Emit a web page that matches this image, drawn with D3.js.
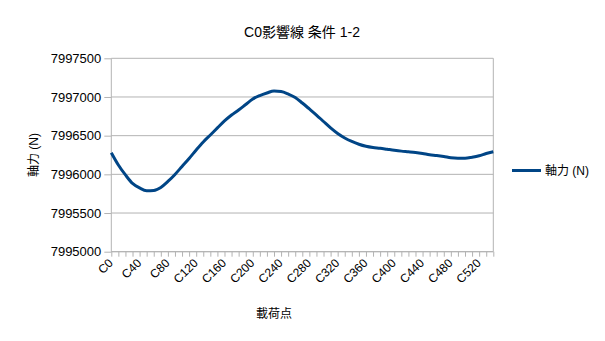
<!DOCTYPE html>
<html><head><meta charset="utf-8">
<script src="https://cdn.jsdelivr.net/npm/d3@7/dist/d3.min.js"></script>
<style>
body{margin:0;background:#fff;}
text{font-family:"Liberation Sans","Noto Sans CJK JP",sans-serif;fill:#000;}
</style></head>
<body><svg id="c" width="605" height="341"></svg>
<script>
const categories = d3.range(0, 550, 10).map(d => "C" + d);
const axialForce = [
7996280,7996121,7995992,7995882,7995824,7995789,7995792,7995831,7995908,7995999,
7996102,7996205,7996315,7996419,7996509,7996600,7996690,7996767,7996832,7996903,
7996974,7997019,7997052,7997078,7997071,7997039,7996994,7996922,7996845,7996767,
7996683,7996600,7996528,7996470,7996425,7996389,7996363,7996347,7996337,7996324,
7996311,7996300,7996292,7996283,7996270,7996253,7996244,7996231,7996214,7996208,
7996208,7996221,7996240,7996270,7996293];
const yTicks = [7995000,7995500,7996000,7996500,7997000,7997500];
const seriesName = "軸力 (N)";

const svg = d3.select("#c");
const L = 111.3, R = 493.3, T = 58.3, B = 251.7;
const x = d3.scalePoint().domain(categories).range([L, R]);
const y = d3.scaleLinear().domain([7995000, 7997500]).range([B, T]);
const grid = "#b3b3b3";

// gridlines
svg.append("g").selectAll("line").data(yTicks).join("line")
  .attr("x1", L).attr("x2", R).attr("y1", d => y(d)).attr("y2", d => y(d))
  .attr("stroke", grid).attr("stroke-width", 1);
// right border
svg.append("line").attr("x1", R).attr("x2", R).attr("y1", T).attr("y2", B).attr("stroke", grid);

// y axis
const ya = svg.append("g").attr("transform", `translate(${L},0)`)
  .call(d3.axisLeft(y).tickValues(yTicks).tickSize(7).tickPadding(3).tickFormat(d3.format("d")));
ya.select(".domain").attr("stroke", grid).attr("d", `M-0,${T}V${B}`);
ya.selectAll(".tick line").attr("stroke", grid);
ya.selectAll(".tick text").style("font-size", "13px").style("font-family", "Liberation Sans");

// x axis
const xa = svg.append("g").attr("transform", `translate(0,${B})`)
  .call(d3.axisBottom(x).tickSize(5).tickFormat((d, i) => i % 4 === 0 ? d : ""));
xa.select(".domain").attr("stroke", grid).attr("d", `M${L},0H${R}`);
xa.selectAll(".tick line").attr("stroke", grid);
xa.selectAll(".tick text").style("font-size", "12px").style("font-family", "Liberation Sans")
  .attr("text-anchor", "end").attr("dy", null).attr("y", 0)
  .attr("transform", "translate(2,12) rotate(-45)");

// line
svg.append("path").datum(axialForce)
  .attr("d", d3.line().x((d, i) => x(categories[i])).y(d => y(d)).curve(d3.curveMonotoneX))
  .attr("fill", "none").attr("stroke", "#004586").attr("stroke-width", 3).attr("stroke-linejoin", "round");

// title
svg.append("text").attr("x", 302).attr("y", 37).attr("text-anchor", "middle")
  .style("font-size", "14px").text("C0影響線 条件 1-2");
// axis titles
svg.append("text").attr("transform", "translate(38,155) rotate(-90)").attr("text-anchor", "middle")
  .style("font-size", "12px").text("軸力 (N)");
svg.append("text").attr("x", 274).attr("y", 318).attr("text-anchor", "middle")
  .style("font-size", "12px").text("載荷点");
// legend
svg.append("line").attr("x1", 512).attr("x2", 541).attr("y1", 170.5).attr("y2", 170.5)
  .attr("stroke", "#004586").attr("stroke-width", 3);
svg.append("text").attr("x", 545).attr("y", 175).style("font-size", "12px").text(seriesName);
</script></body></html>
